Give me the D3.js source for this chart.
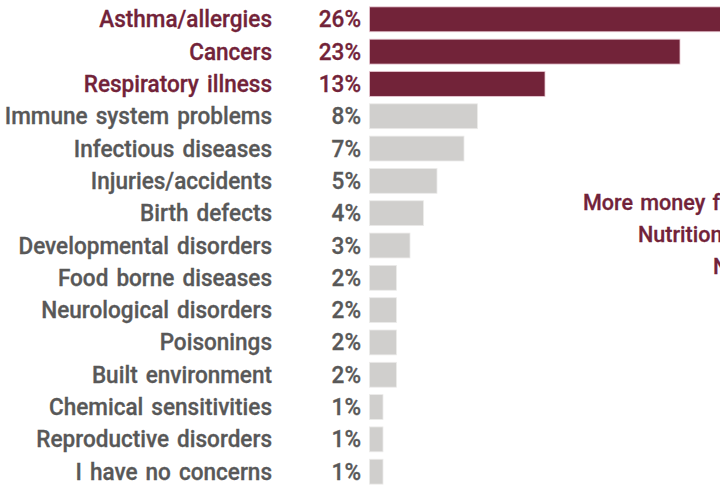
<!DOCTYPE html>
<html><head><meta charset="utf-8">
<script src="https://cdn.jsdelivr.net/npm/d3@7"></script>
<style>html,body{margin:0;padding:0;background:#fff;overflow:hidden}</style>
</head><body>
<script>
const categories = ["Asthma/allergies","Cancers","Respiratory illness","Immune system problems","Infectious diseases","Injuries/accidents","Birth defects","Developmental disorders","Food borne diseases","Neurological disorders","Poisonings","Built environment ","Chemical sensitivities","Reproductive disorders","I have no concerns"];
const values = [26,23,13,8,7,5,4,3,2,2,2,2,1,1,1];
const highlighted = [true,true,true,false,false,false,false,false,false,false,false,false,false,false,false];
const sideNote = ["More money for", "Nutrition", "No"];

const W = 720, H = 488;
const svg = d3.select("body").append("svg").attr("width", W).attr("height", H);
const dark = "#722339", grey = "#d0cfcd", greyText = "#585858";
const font = "Roboto, 'Liberation Sans', Arial, sans-serif";
const fs = 23, sx = 0.98;

const y = d3.scaleBand().domain(categories.map((d,i)=>i)).range([3, 488]).paddingInner(0.23).paddingOuter(0.12);
const x = d3.scaleLinear().domain([0, 26]).range([369.5, 720.5]);

const rows = svg.selectAll("g.row").data(categories).join("g").attr("class","row");

rows.append("rect")
  .attr("x", x(0))
  .attr("y", (d,i)=>y(i))
  .attr("width", (d,i)=>x(values[i]) - x(0))
  .attr("height", y.bandwidth())
  .attr("fill", (d,i)=>highlighted[i] ? dark : grey)
  .attr("stroke", (d,i)=>highlighted[i] ? "#e8c8d2" : "#ecebea")
  .attr("stroke-width", 0.8);

function label(sel, xAnchor, txt) {
  sel.append("text")
    .attr("transform", (d,i)=>`translate(${xAnchor},${y(i) + y.bandwidth()/2 + 8}) scale(${sx},1)`)
    .attr("text-anchor", "end")
    .attr("font-family", font).attr("font-weight", 500).attr("font-size", fs)
    .attr("word-spacing", 2.5)
    .attr("stroke", (d,i)=>highlighted[i] ? dark : greyText).attr("stroke-width", 0.3)
    .attr("fill", (d,i)=>highlighted[i] ? dark : greyText)
    .text(txt);
}
label(rows, 272, d=>d);
label(rows, 361, (d,i)=>values[i] + "%");

const noteX = [583, 638, 713];
svg.selectAll("text.note").data(sideNote).join("text").attr("class","note")
  .attr("transform", (d,i)=>`translate(${noteX[i]},${210 + i*32}) scale(${sx},1)`)
  .attr("font-family", font).attr("font-weight", 500).attr("font-size", 22)
  .attr("word-spacing", 2)
  .attr("stroke", dark).attr("stroke-width", 0.3)
  .attr("fill", dark)
  .text(d=>d);
</script>
</body></html>
